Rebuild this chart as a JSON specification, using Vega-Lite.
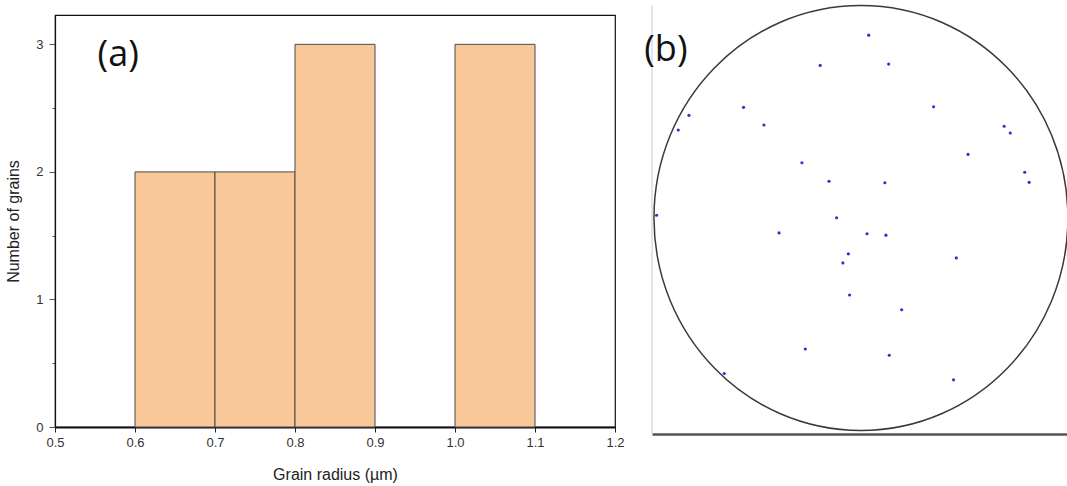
{
  "$schema": "https://vega.github.io/schema/vega-lite/v6.json",
  "padding": {"left": 4, "top": 2, "right": 0, "bottom": 0},
  "spacing": 19,
  "config": {"view": {"stroke": null}, "font": "Liberation Sans"},
  "datasets": {
    "bars": [
      {"bin_start": 0.6, "bin_end": 0.7, "count": 2},
      {"bin_start": 0.7, "bin_end": 0.8, "count": 2},
      {"bin_start": 0.8, "bin_end": 0.9, "count": 3},
      {"bin_start": 1.0, "bin_end": 1.1, "count": 3}
    ],
    "labels_a": [{"x": 0.579, "y": 2.92, "label": "(a)"}],
    "circle": [{"cx": 0, "cy": 0}],
    "frame_b": [{"x": -0.995, "y1": -1.029, "y2": 1.014}],
    "labels_b": [{"x": -0.929, "y": 0.80, "label": "(b)"}],
    "points": [
      {"x": 0.037, "y": 0.871}, {"x": -0.194, "y": 0.727}, {"x": 0.132, "y": 0.733},
      {"x": -0.559, "y": 0.527}, {"x": 0.346, "y": 0.530}, {"x": -0.819, "y": 0.489},
      {"x": -0.870, "y": 0.419}, {"x": -0.462, "y": 0.443}, {"x": 0.682, "y": 0.437},
      {"x": 0.711, "y": 0.405}, {"x": 0.510, "y": 0.303}, {"x": -0.281, "y": 0.263},
      {"x": 0.780, "y": 0.218}, {"x": 0.801, "y": 0.170}, {"x": -0.152, "y": 0.175},
      {"x": 0.114, "y": 0.168}, {"x": -0.973, "y": 0.013}, {"x": -0.116, "y": 0.001},
      {"x": -0.390, "y": -0.071}, {"x": 0.029, "y": -0.075}, {"x": 0.119, "y": -0.082},
      {"x": -0.060, "y": -0.171}, {"x": -0.086, "y": -0.214}, {"x": 0.454, "y": -0.190},
      {"x": -0.054, "y": -0.367}, {"x": 0.194, "y": -0.437}, {"x": -0.265, "y": -0.624},
      {"x": 0.135, "y": -0.654}, {"x": -0.651, "y": -0.741}, {"x": 0.441, "y": -0.771}
    ]
  },
  "hconcat": [
    {
      "width": 560,
      "height": 412,
      "view": {"stroke": "#111111", "strokeWidth": 1.2},
      "layer": [
        {
          "data": {"name": "bars"},
          "mark": {"type": "bar", "fill": "#F9C898", "stroke": "#4a4a4a", "strokeWidth": 1},
          "encoding": {
            "x": {
              "field": "bin_start", "type": "quantitative",
              "scale": {"domain": [0.5, 1.2], "nice": false, "zero": false},
              "axis": {
                "title": "Grain radius (µm)",
                "titleFont": "Liberation Sans", "titleFontSize": 16, "titleFontWeight": "normal", "titleColor": "#222222",
                "titlePadding": 17,
                "values": [0.5, 0.55, 0.6, 0.65, 0.7, 0.75, 0.8, 0.85, 0.9, 0.95, 1.0, 1.05, 1.1, 1.15, 1.2],
                "labelExpr": "abs(datum.value*10 - round(datum.value*10)) < 0.01 ? format(datum.value, '.1f') : ''",
                "labelFontSize": 13, "labelColor": "#333333", "labelPadding": 4, "labelFlush": false, "labelOverlap": false,
                "tickColor": "#222222",
                "tickSize": {"condition": {"test": "abs(datum.value*10 - round(datum.value*10)) < 0.01", "value": 5}, "value": 3},
                "domainColor": "#111111", "domainWidth": 2, "grid": false
              }
            },
            "x2": {"field": "bin_end"},
            "y": {
              "field": "count", "type": "quantitative",
              "scale": {"domain": [0, 3.23], "nice": false},
              "axis": {
                "title": "Number of grains",
                "titleFont": "Liberation Sans", "titleFontSize": 16, "titleFontWeight": "normal", "titleColor": "#222222",
                "titlePadding": 14, "minExtent": 20, "maxExtent": 20,
                "values": [0, 0.5, 1, 1.5, 2, 2.5, 3],
                "labelExpr": "datum.value % 1 == 0 ? format(datum.value, '.0f') : ''",
                "labelFontSize": 13, "labelColor": "#333333", "labelPadding": 6, "labelFlush": false, "labelOverlap": false,
                "tickColor": "#555555",
                "tickSize": {"condition": {"test": "datum.value % 1 == 0", "value": 6}, "value": 3},
                "domainColor": "#111111", "domainWidth": 1.2, "grid": false
              }
            },
            "y2": {"datum": 0}
          }
        },
        {
          "data": {"name": "labels_a"},
          "mark": {"type": "text", "font": "Open Sans", "fontSize": 36, "align": "center", "baseline": "middle", "color": "#111111"},
          "encoding": {
            "x": {"field": "x", "type": "quantitative"},
            "y": {"field": "y", "type": "quantitative"},
            "text": {"field": "label"}
          }
        }
      ]
    },
    {
      "width": 416,
      "height": 419,
      "encoding": {
        "x": {
          "field": "x", "type": "quantitative",
          "scale": {"domain": [-0.995, 0.986], "nice": false, "zero": false},
          "axis": {"title": null, "labels": false, "ticks": false, "grid": false, "domainColor": "#555555", "domainWidth": 2.5}
        },
        "y": {
          "field": "y", "type": "quantitative",
          "scale": {"domain": [-1.029, 0.967], "nice": false, "zero": false},
          "axis": {"title": null, "labels": false, "ticks": false, "grid": false, "domain": false}
        }
      },
      "layer": [
        {
          "data": {"name": "frame_b"},
          "mark": {"type": "rule", "color": "#cccccc", "strokeWidth": 1},
          "encoding": {
            "x": {"field": "x", "type": "quantitative"},
            "y": {"field": "y1", "type": "quantitative"},
            "y2": {"field": "y2"}
          }
        },
        {
          "data": {"name": "circle"},
          "mark": {"type": "point", "shape": "M -0.974 0 A 0.974 1 0 1 1 0.974 0 A 0.974 1 0 1 1 -0.974 0 Z", "size": 180625, "filled": false, "stroke": "#3a3a3a", "strokeWidth": 1.5, "opacity": 1},
          "encoding": {
            "x": {"field": "cx", "type": "quantitative"},
            "y": {"field": "cy", "type": "quantitative"}
          }
        },
        {
          "data": {"name": "points"},
          "mark": {"type": "point", "shape": "circle", "filled": true, "size": 10, "color": "#3030d0", "opacity": 1}
        },
        {
          "data": {"name": "labels_b"},
          "mark": {"type": "text", "font": "Open Sans", "fontSize": 36, "align": "center", "baseline": "middle", "color": "#111111"},
          "encoding": {"text": {"field": "label"}}
        }
      ]
    }
  ]
}
